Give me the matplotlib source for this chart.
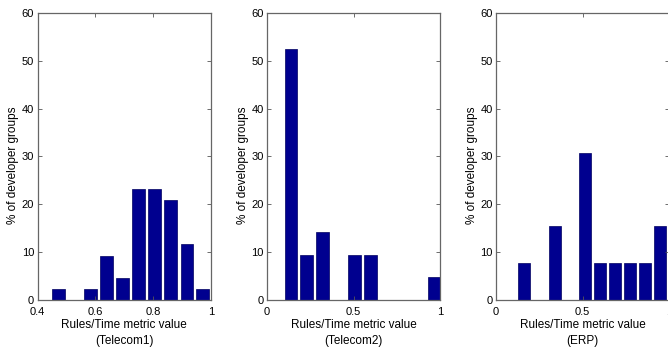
#!/usr/bin/env python3
"""
Histograms of the Rules/Time metric for three projects (MATLAB style).
"""
import matplotlib

matplotlib.use("Agg")
import matplotlib.pyplot as plt

# bin centres and % of developer groups
telecom1_x = [0.472, 0.528, 0.583, 0.639, 0.694, 0.750, 0.806, 0.861, 0.917, 0.972]
telecom1_pct = [2.3, 0.0, 2.3, 9.3, 4.7, 23.3, 23.3, 20.9, 11.6, 2.3]

telecom2_x = [0.138, 0.229, 0.321, 0.413, 0.504, 0.596, 0.688, 0.779, 0.871, 0.963]
telecom2_pct = [52.4, 9.5, 14.3, 0.0, 9.5, 9.5, 0.0, 0.0, 0.0, 4.8]

erp_x = [0.164, 0.251, 0.338, 0.425, 0.513, 0.600, 0.687, 0.774, 0.861, 0.948]
erp_pct = [7.7, 0.0, 15.4, 0.0, 30.8, 7.7, 7.7, 7.7, 7.7, 15.4]

project_names = ["Telecom1", "Telecom2", "ERP"]
x_limits = [(0.4, 1.0), (0.0, 1.0), (0.0, 1.0)]
x_ticks = [[0.4, 0.6, 0.8, 1.0], [0, 0.5, 1], [0, 0.5, 1]]
x_ticklabels = [["0.4", "0.6", "0.8", "1"], ["0", "0.5", "1"], ["0", "0.5", "1"]]
y_ticks = [0, 10, 20, 30, 40, 50, 60]

BAR_COLOR = "#00008F"
FONT = "Liberation Sans"


def main() -> None:
    plt.rcParams["font.family"] = FONT
    fig = plt.figure(figsize=(6.68, 3.5), dpi=100)

    series = [(telecom1_x, telecom1_pct), (telecom2_x, telecom2_pct), (erp_x, erp_pct)]
    lefts = [0.0564, 0.3997, 0.7425]

    for i, (xs, ys) in enumerate(series):
        ax = fig.add_axes([lefts[i], 0.1429, 0.2594, 0.82])
        width = 0.8 * (xs[1] - xs[0])
        ax.bar(xs, ys, width=width, color=BAR_COLOR, edgecolor="#000060", linewidth=0.5)

        ax.set_xlim(*x_limits[i])
        ax.set_ylim(0, 60)
        ax.set_xticks(x_ticks[i])
        ax.set_xticklabels(x_ticklabels[i])
        ax.set_yticks(y_ticks)
        ax.tick_params(direction="in", length=3, width=0.6, color="#555555",
                       top=True, right=True, labelsize=8, pad=2.5)
        ax.tick_params(axis="x", pad=5)
        for sp in ax.spines.values():
            sp.set_color("#666666")
            sp.set_linewidth(0.9)

        ax.set_xlabel(f"Rules/Time metric value\n({project_names[i]})",
                      fontsize=8.5, linespacing=1.45, labelpad=1.5)
        ax.set_ylabel("% of developer groups", fontsize=8.5)
        ax.yaxis.set_label_coords(-0.105, 0.47)

    fig.savefig("out.png", dpi=100)
    plt.close(fig)


if __name__ == "__main__":
    main()
